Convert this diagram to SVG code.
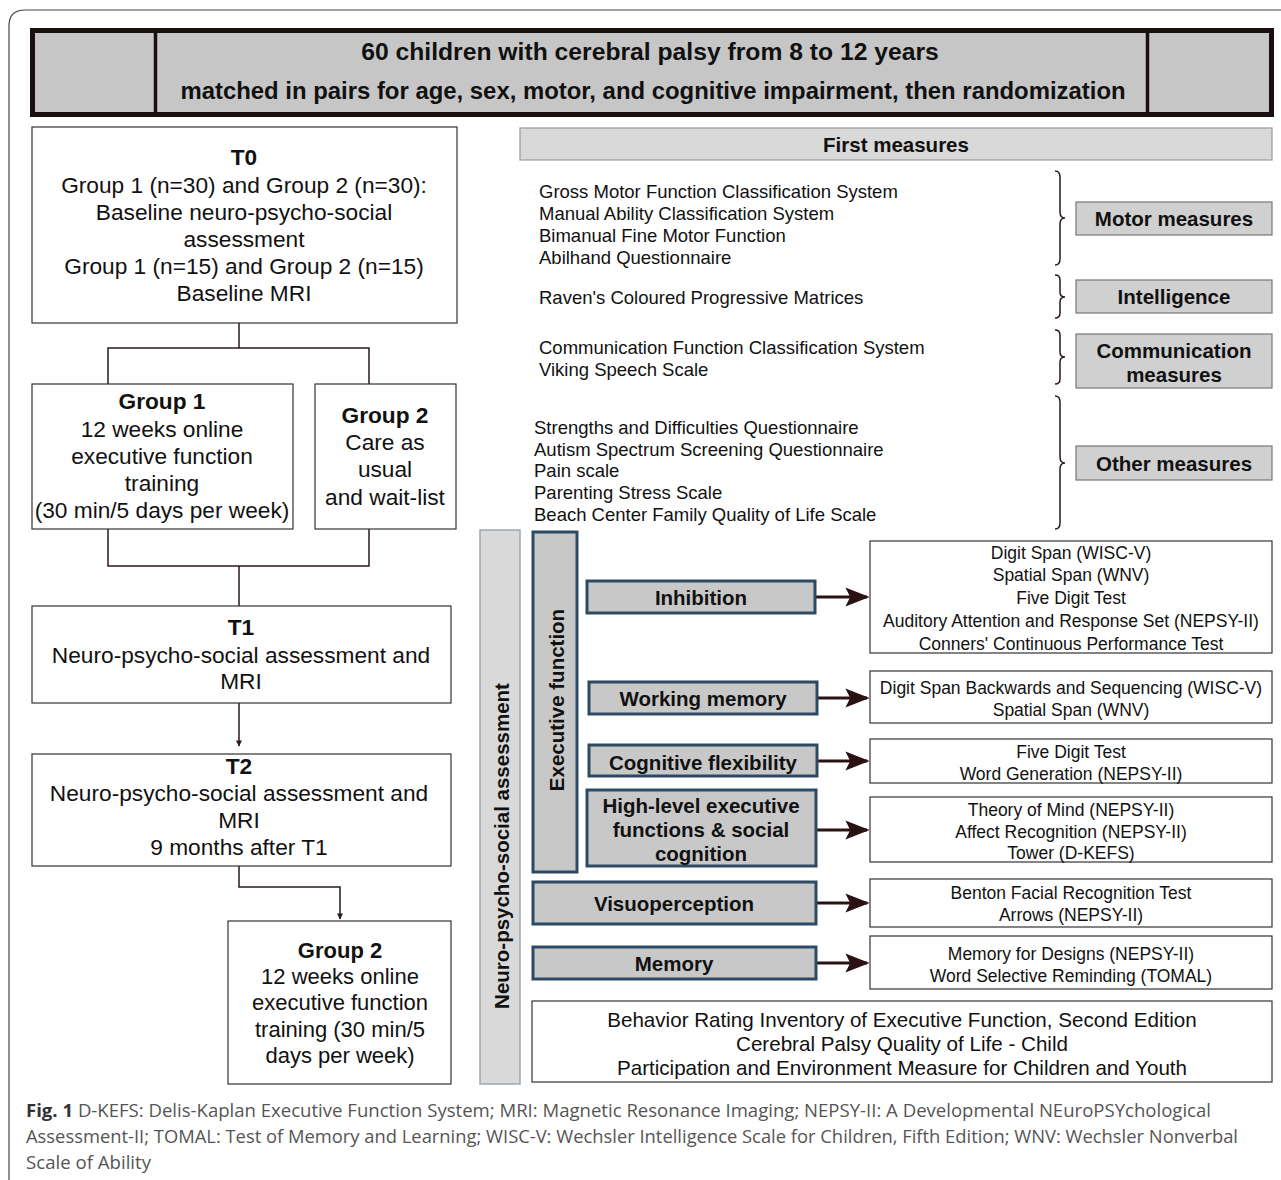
<svg xmlns="http://www.w3.org/2000/svg" width="1281" height="1180" viewBox="0 0 1281 1180">
<defs>
<style>
text{font-family:"Liberation Sans",Arial,sans-serif;fill:#111;}
.c{text-anchor:middle;}
.b{font-weight:bold;}
.f21{font-size:22.7px;}
.f22{font-size:22px;}
.f17{font-size:17.5px;}
.fl{font-size:18.5px;}
.lb{font-size:20.5px;font-weight:bold;}
.box{fill:#fff;stroke:#333;stroke-width:1.2;}
.gbox{fill:#d0d0d0;stroke:#777;stroke-width:1.2;}
.ef{fill:#c8c8c8;stroke:#2c4a63;stroke-width:3;}
.ln{fill:none;stroke:#2a1a1a;stroke-width:1.5;}
.ar{fill:none;stroke:#2a1212;stroke-width:3;}
.cap{font-family:"Open Sans","DejaVu Sans",sans-serif;font-size:18px;fill:#555;}
</style>
<marker id="ah" viewBox="0 0 10 10" refX="9" refY="5" markerWidth="7" markerHeight="6" markerUnits="userSpaceOnUse" orient="auto"><path d="M0,0 L10,5 L0,10 z" fill="#2a1a1a"/></marker>
<marker id="ah2" viewBox="0 0 10 10" refX="9" refY="5" markerWidth="8" markerHeight="8" orient="auto" markerUnits="strokeWidth"><path d="M0,1 L10,5 L0,9 L2,5 z" fill="#2a1212"/></marker>
</defs>
<rect x="0" y="0" width="1281" height="1180" fill="#fff"/>
<path d="M9,1180 L9,26 Q9,10 25,10 L1290,10" fill="none" stroke="#444" stroke-width="1.2"/>

<g id="header">
<rect x="32.5" y="30.5" width="1239" height="84" fill="#c6c6c6" stroke="#1a1010" stroke-width="5"/>
<line x1="155.5" y1="30" x2="155.5" y2="115" stroke="#1a1010" stroke-width="3.5"/>
<line x1="1147.5" y1="30" x2="1147.5" y2="115" stroke="#1a1010" stroke-width="3.5"/>
<text x="650" y="60" class="c b" font-size="24.7">60 children with cerebral palsy from 8 to 12 years</text>
<text x="653" y="99" class="c b" font-size="23.9">matched in pairs for age, sex, motor, and cognitive impairment, then randomization</text>
</g>

<g id="connectors">
<path class="ln" d="M239,323 V348 M108,384 V348 H369 V384"/>
<path class="ln" d="M108,529 V566 H369 V529 M239,566 V606"/>
<path class="ln" d="M239,703 V746" marker-end="url(#ah)"/>
<path class="ln" d="M239,866 V887 H340 V919" marker-end="url(#ah)"/>
<path class="ar" d="M815,597 H867" marker-end="url(#ah2)"/>
<path class="ar" d="M817,698 H867" marker-end="url(#ah2)"/>
<path class="ar" d="M817,761 H867" marker-end="url(#ah2)"/>
<path class="ar" d="M816,830 H867" marker-end="url(#ah2)"/>
<path class="ar" d="M816,903 H867" marker-end="url(#ah2)"/>
<path class="ar" d="M816,963 H867" marker-end="url(#ah2)"/>
</g>

<g id="t0">
<rect class="box" x="32" y="127" width="425" height="196"/>
<text x="244" y="165" class="c b f21">T0</text>
<text x="244" y="193" class="c f21">Group 1 (n=30) and Group 2 (n=30):</text>
<text x="244" y="220" class="c f21">Baseline neuro-psycho-social</text>
<text x="244" y="247" class="c f21">assessment</text>
<text x="244" y="274" class="c f21">Group 1 (n=15) and Group 2 (n=15)</text>
<text x="244" y="301" class="c f21">Baseline MRI</text>
</g>

<g id="group1">
<rect class="box" x="32" y="384" width="261" height="145"/>
<text x="162" y="409" class="c b f21">Group 1</text>
<text x="162" y="437" class="c f21">12 weeks online</text>
<text x="162" y="464" class="c f21">executive function</text>
<text x="162" y="491" class="c f21">training</text>
<text x="162" y="518" class="c f21">(30 min/5 days per week)</text>
</g>

<g id="group2">
<rect class="box" x="315" y="384" width="141" height="145"/>
<text x="385" y="423" class="c b f21">Group 2</text>
<text x="385" y="450" class="c f21">Care as</text>
<text x="385" y="477" class="c f21">usual</text>
<text x="385" y="505" class="c f21">and wait-list</text>
</g>

<g id="t1">
<rect class="box" x="32" y="606" width="419" height="97"/>
<text x="241" y="635" class="c b f21">T1</text>
<text x="241" y="663" class="c f21">Neuro-psycho-social assessment and</text>
<text x="241" y="689" class="c f21">MRI</text>
</g>

<g id="t2">
<rect class="box" x="32" y="754" width="419" height="112"/>
<text x="239" y="774" class="c b f21">T2</text>
<text x="239" y="801" class="c f21">Neuro-psycho-social assessment and</text>
<text x="239" y="828" class="c f21">MRI</text>
<text x="239" y="855" class="c f21">9 months after T1</text>
</g>

<g id="group2b">
<rect class="box" x="228" y="921" width="223" height="163"/>
<text x="340" y="958" class="c b f22">Group 2</text>
<text x="340" y="984" class="c f22">12 weeks online</text>
<text x="340" y="1010" class="c f22">executive function</text>
<text x="340" y="1037" class="c f22">training (30 min/5</text>
<text x="340" y="1063" class="c f22">days per week)</text>
</g>

<g id="first-measures">
<rect x="520" y="128" width="752" height="32" fill="#d9d9d9" stroke="#999" stroke-width="1.2"/>
<text x="896" y="152" class="c lb" font-size="21.5">First measures</text>
</g>

<g id="lists">
<text x="539" y="198" class="fl">Gross Motor Function Classification System</text>
<text x="539" y="220" class="fl">Manual Ability Classification System</text>
<text x="539" y="242" class="fl">Bimanual Fine Motor Function</text>
<text x="539" y="264" class="fl">Abilhand Questionnaire</text>
<text x="539" y="304" class="fl">Raven's Coloured Progressive Matrices</text>
<text x="539" y="354" class="fl">Communication Function Classification System</text>
<text x="539" y="376" class="fl">Viking Speech Scale</text>
<text x="534" y="434" class="fl">Strengths and Difficulties Questionnaire</text>
<text x="534" y="456" class="fl">Autism Spectrum Screening Questionnaire</text>
<text x="534" y="477" class="fl">Pain scale</text>
<text x="534" y="499" class="fl">Parenting Stress Scale</text>
<text x="534" y="521" class="fl">Beach Center Family Quality of Life Scale</text>
</g>

<g id="braces" fill="none" stroke="#2a1a1a" stroke-width="1.5">
<path d="M1055,171 Q1060,171 1060,177 V212 Q1060,218 1065,218 Q1060,218 1060,224 V259 Q1060,265 1055,265"/>
<path d="M1055,275 Q1060,275 1060,280 V292 Q1060,297 1065,297 Q1060,297 1060,302 V313 Q1060,318 1055,318"/>
<path d="M1055,330 Q1060,330 1060,335 V352 Q1060,357 1065,357 Q1060,357 1060,362 V379 Q1060,384 1055,384"/>
<path d="M1055,396 Q1060,396 1060,402 V457 Q1060,463 1065,463 Q1060,463 1060,469 V523 Q1060,529 1055,529"/>
</g>

<g id="motor">
<rect class="gbox" x="1076" y="202" width="196" height="33"/>
<text x="1174" y="226" class="c lb">Motor measures</text>
</g>
<g id="intelligence">
<rect class="gbox" x="1076" y="280" width="196" height="33"/>
<text x="1174" y="304" class="c lb">Intelligence</text>
</g>
<g id="communication">
<rect class="gbox" x="1076" y="334" width="196" height="54"/>
<text x="1174" y="358" class="c lb">Communication</text>
<text x="1174" y="382" class="c lb">measures</text>
</g>
<g id="other">
<rect class="gbox" x="1076" y="446" width="196" height="34"/>
<text x="1174" y="471" class="c lb">Other measures</text>
</g>

<g id="neuro">
<rect x="480" y="530" width="40" height="554" fill="#d9d9d9" stroke="#9aa8b4" stroke-width="1.5"/>
<text transform="translate(509,846) rotate(-90)" class="c lb">Neuro-psycho-social assessment</text>
</g>

<g id="exec">
<rect class="ef" x="533" y="532" width="44" height="340"/>
<text transform="translate(564,700) rotate(-90)" class="c lb">Executive function</text>
</g>

<g id="inhibition">
<rect class="ef" x="587" y="581" width="228" height="32"/>
<text x="701" y="605" class="c lb">Inhibition</text>
</g>
<g id="wm">
<rect class="ef" x="589" y="682" width="228" height="32"/>
<text x="703" y="706" class="c lb">Working memory</text>
</g>
<g id="cf">
<rect class="ef" x="589" y="745" width="228" height="31"/>
<text x="703" y="770" class="c lb">Cognitive flexibility</text>
</g>
<g id="hl">
<rect class="ef" x="587" y="790" width="229" height="76"/>
<text x="701" y="813" class="c lb">High-level executive</text>
<text x="701" y="837" class="c lb">functions &amp; social</text>
<text x="701" y="861" class="c lb">cognition</text>
</g>
<g id="visuo">
<rect class="ef" x="533" y="882" width="283" height="42"/>
<text x="674" y="911" class="c lb">Visuoperception</text>
</g>
<g id="memory">
<rect class="ef" x="533" y="947" width="283" height="32"/>
<text x="674" y="971" class="c lb">Memory</text>
</g>

<g id="inh-tests">
<rect class="box" x="870" y="541" width="402" height="112"/>
<text x="1071" y="559" class="c f17">Digit Span (WISC-V)</text>
<text x="1071" y="581" class="c f17">Spatial Span (WNV)</text>
<text x="1071" y="604" class="c f17">Five Digit Test</text>
<text x="1071" y="627" class="c f17">Auditory Attention and Response Set (NEPSY-II)</text>
<text x="1071" y="650" class="c f17">Conners' Continuous Performance Test</text>
</g>
<g id="wm-tests">
<rect class="box" x="870" y="671" width="402" height="52"/>
<text x="1071" y="694" class="c f17">Digit Span Backwards and Sequencing (WISC-V)</text>
<text x="1071" y="716" class="c f17">Spatial Span (WNV)</text>
</g>
<g id="cf-tests">
<rect class="box" x="870" y="739" width="402" height="44"/>
<text x="1071" y="758" class="c f17">Five Digit Test</text>
<text x="1071" y="780" class="c f17">Word Generation (NEPSY-II)</text>
</g>
<g id="hl-tests">
<rect class="box" x="870" y="797" width="402" height="65"/>
<text x="1071" y="816" class="c f17">Theory of Mind (NEPSY-II)</text>
<text x="1071" y="838" class="c f17">Affect Recognition (NEPSY-II)</text>
<text x="1071" y="859" class="c f17">Tower (D-KEFS)</text>
</g>
<g id="visuo-tests">
<rect class="box" x="870" y="879" width="402" height="48"/>
<text x="1071" y="899" class="c f17">Benton Facial Recognition Test</text>
<text x="1071" y="921" class="c f17">Arrows (NEPSY-II)</text>
</g>
<g id="mem-tests">
<rect class="box" x="870" y="936" width="402" height="53"/>
<text x="1071" y="960" class="c f17">Memory for Designs (NEPSY-II)</text>
<text x="1071" y="982" class="c f17">Word Selective Reminding (TOMAL)</text>
</g>
<g id="bottom-box">
<rect class="box" x="532" y="1001" width="740" height="81"/>
<text x="902" y="1027" class="c" font-size="20.6">Behavior Rating Inventory of Executive Function, Second Edition</text>
<text x="902" y="1051" class="c" font-size="20.6">Cerebral Palsy Quality of Life - Child</text>
<text x="902" y="1075" class="c" font-size="20.6">Participation and Environment Measure for Children and Youth</text>
</g>

<g id="caption">
<text class="cap" x="26" y="1117" textLength="1185" lengthAdjust="spacingAndGlyphs"><tspan font-weight="bold" fill="#333">Fig. 1</tspan> D-KEFS: Delis-Kaplan Executive Function System; MRI: Magnetic Resonance Imaging; NEPSY-II: A Developmental NEuroPSYchological</text>
<text class="cap" x="26" y="1143" textLength="1212" lengthAdjust="spacingAndGlyphs">Assessment-II; TOMAL: Test of Memory and Learning; WISC-V: Wechsler Intelligence Scale for Children, Fifth Edition; WNV: Wechsler Nonverbal</text>
<text class="cap" x="26" y="1169" textLength="125" lengthAdjust="spacingAndGlyphs">Scale of Ability</text>
</g>
</svg>
